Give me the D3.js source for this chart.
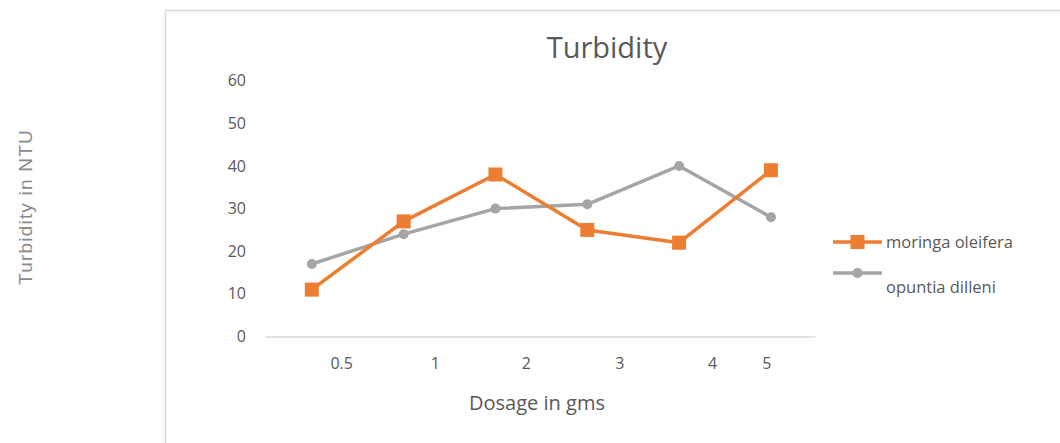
<!DOCTYPE html>
<html>
<head>
<meta charset="utf-8">
<script src="https://cdn.jsdelivr.net/npm/d3@7"></script>
<style>
  body { margin: 0; background: #fff; }
  text { font-family: "Open Sans", sans-serif; }
</style>
</head>
<body>
<div id="wrapper"></div>
<script>
// data
const dosageLabels = ["0.5", "1", "2", "3", "4", "5"];
// where each tick label sits, in point-index units (labels are off-centre in the original)
const labelPositions = [0.32, 1.34, 2.33, 3.35, 4.36, 4.95];
const moringa = [11, 27, 38, 25, 22, 39];
const opuntia = [17, 24, 30, 31, 40, 28];
const yTicks = [0, 10, 20, 30, 40, 50, 60];

const seriesNames = ["moringa oleifera", "opuntia dilleni"];
const orange = "#ED7D31";
const grey = "#A5A5A5";
const textColor = "#595959";

function drawChart() {
    let dimensions = {
        width: 1060,
        height: 443,
        margin: { top: 80.7, right: 245, bottom: 106.5, left: 265 },
    };
    dimensions.boundedWidth = dimensions.width - dimensions.margin.left - dimensions.margin.right;
    dimensions.boundedHeight = dimensions.height - dimensions.margin.top - dimensions.margin.bottom;

    const wrapper = d3.select("#wrapper")
        .append("svg")
        .attr("width", dimensions.width)
        .attr("height", dimensions.height);

    // chart area border (only top and left visible in the crop)
    wrapper.append("path")
        .attr("d", "M165.5,443 V10.5 H1060")
        .attr("fill", "none")
        .attr("stroke", "#d9d9d9")
        .attr("stroke-width", 1.5);

    const bounds = wrapper.append("g")
        .attr("transform", `translate(${dimensions.margin.left},${dimensions.margin.top})`);

    const xScale = d3.scaleLinear()
        .domain([-0.51, 5.48])
        .range([0, dimensions.boundedWidth]);

    const yScale = d3.scaleLinear()
        .domain([0, 60])
        .range([dimensions.boundedHeight, 0]);

    // y axis (labels only)
    const yAxis = bounds.append("g")
        .call(d3.axisLeft(yScale).tickValues(yTicks).tickSize(0).tickPadding(19));
    yAxis.select(".domain").remove();
    yAxis.selectAll("text")
        .attr("fill", textColor)
        .style("font-size", "16px")
        .style("font-family", "Open Sans");

    // x axis
    const xAxis = bounds.append("g")
        .attr("transform", `translate(0,${dimensions.boundedHeight})`)
        .call(d3.axisBottom(xScale)
            .tickValues(labelPositions)
            .tickFormat((d, i) => dosageLabels[i])
            .tickSize(0)
            .tickPadding(21));
    xAxis.select(".domain")
        .attr("stroke", "#d9d9d9")
        .attr("stroke-width", 1.5);
    xAxis.selectAll("text")
        .attr("fill", textColor)
        .style("font-size", "16px")
        .style("font-family", "Open Sans");

    const lineGen = d3.line()
        .x((d, i) => xScale(i))
        .y(d => yScale(d));

    // opuntia (grey, drawn first)
    bounds.append("path")
        .datum(opuntia)
        .attr("d", lineGen)
        .attr("fill", "none")
        .attr("stroke", grey)
        .attr("stroke-width", 3.5)
        .attr("stroke-linejoin", "round");

    bounds.append("g").selectAll("circle")
        .data(opuntia)
        .join("circle")
        .attr("cx", (d, i) => xScale(i))
        .attr("cy", d => yScale(d))
        .attr("r", 5)
        .attr("fill", grey);

    // moringa (orange)
    bounds.append("path")
        .datum(moringa)
        .attr("d", lineGen)
        .attr("fill", "none")
        .attr("stroke", orange)
        .attr("stroke-width", 3.5)
        .attr("stroke-linejoin", "round");

    const sq = 14;
    bounds.append("g").selectAll("rect")
        .data(moringa)
        .join("rect")
        .attr("x", (d, i) => xScale(i) - sq / 2)
        .attr("y", d => yScale(d) - sq / 2)
        .attr("width", sq)
        .attr("height", sq)
        .attr("fill", orange);

    // title
    wrapper.append("text")
        .attr("x", 607)
        .attr("y", 58)
        .attr("text-anchor", "middle")
        .attr("fill", textColor)
        .style("font-size", "29px")
        .text("Turbidity");

    // axis titles
    wrapper.append("text")
        .attr("x", 537)
        .attr("y", 410)
        .attr("text-anchor", "middle")
        .attr("fill", textColor)
        .style("font-size", "20px")
        .text("Dosage in gms");

    wrapper.append("text")
        .attr("transform", "translate(32,207) rotate(-90)")
        .attr("text-anchor", "middle")
        .attr("fill", "#8a8a8a")
        .style("font-family", "Liberation Sans, Arial, sans-serif")
        .style("font-size", "19px")
        .style("letter-spacing", "1.2px")
        .text("Turbidity in NTU");

    // legend
    const legend = wrapper.append("g");
    const legendRows = [
        { name: seriesNames[0], color: orange, y: 242, textY: 248, marker: "square" },
        { name: seriesNames[1], color: grey, y: 273, textY: 293, marker: "circle" },
    ];
    legendRows.forEach(row => {
        legend.append("line")
            .attr("x1", 833).attr("x2", 882)
            .attr("y1", row.y).attr("y2", row.y)
            .attr("stroke", row.color)
            .attr("stroke-width", 3.5);
        if (row.marker === "square") {
            legend.append("rect")
                .attr("x", 857.5 - 7).attr("y", row.y - 7)
                .attr("width", 14).attr("height", 14)
                .attr("fill", row.color);
        } else {
            legend.append("circle")
                .attr("cx", 857.5).attr("cy", row.y)
                .attr("r", 5)
                .attr("fill", row.color);
        }
        legend.append("text")
            .attr("x", 886)
            .attr("y", row.textY)
            .attr("fill", textColor)
            .style("font-size", "16.5px")
            .text(row.name);
    });
}

drawChart();
</script>
</body>
</html>
